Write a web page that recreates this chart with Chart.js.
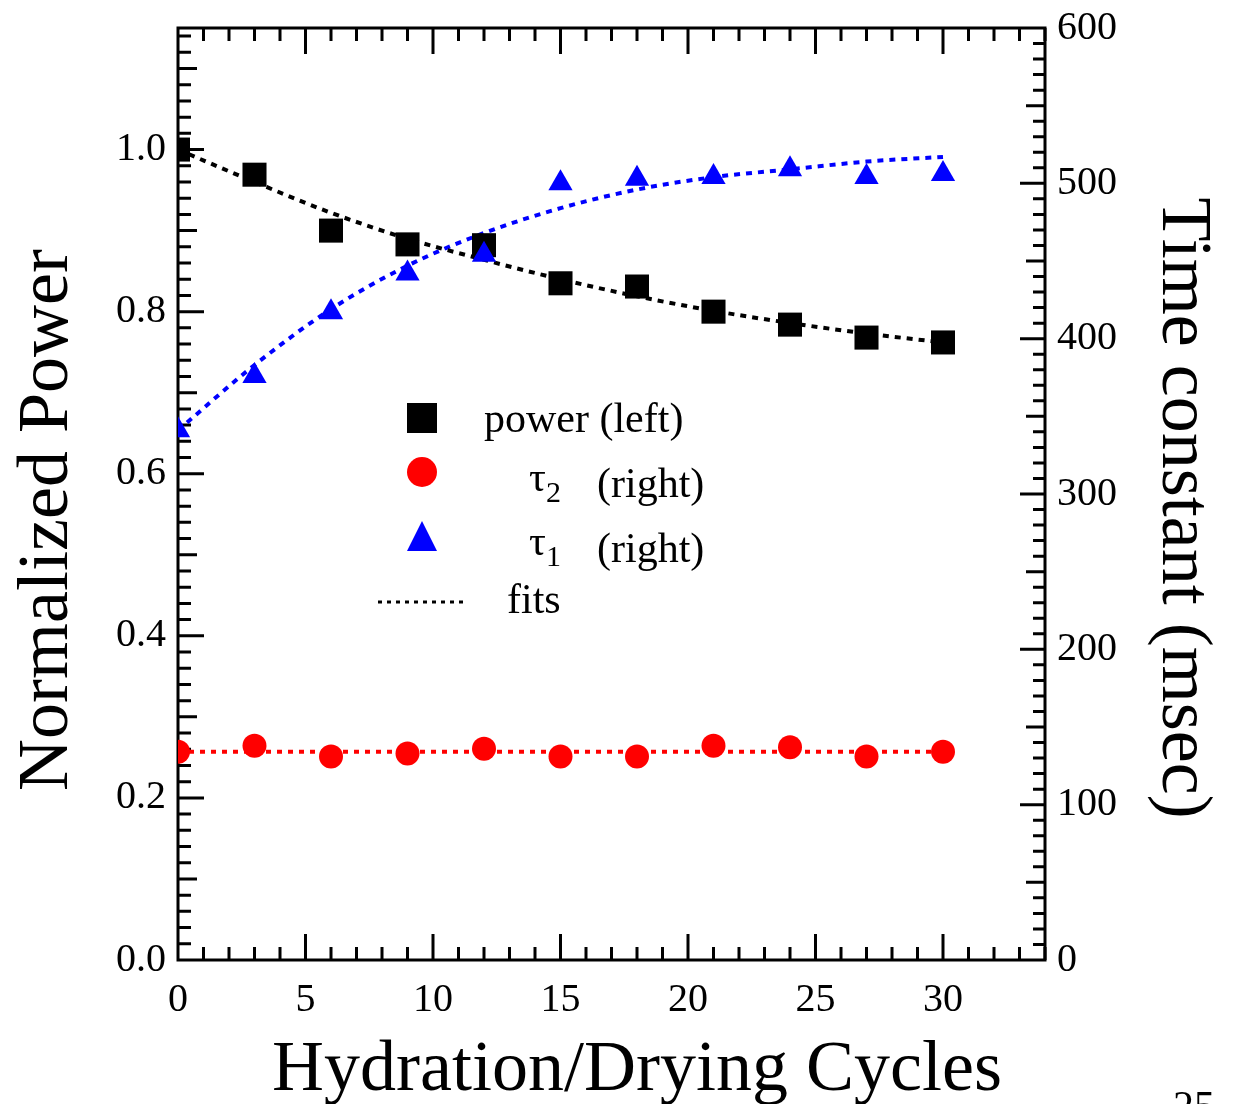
<!DOCTYPE html>
<html>
<head>
<meta charset="utf-8">
<script src="https://cdn.jsdelivr.net/npm/chart.js@4.4.1/dist/chart.umd.min.js"></script>
<style>
  html, body { margin: 0; padding: 0; background: #fff; }
  #wrap { width: 1233px; height: 1104px; }
</style>
</head>
<body>
<div id="wrap"><canvas id="chart"></canvas></div>
<script>
// values
const cycles = [0, 3, 6, 9, 12, 15, 18, 21, 24, 27, 30];
const power = [1.000, 0.969, 0.900, 0.883, 0.882, 0.835, 0.831, 0.800, 0.784, 0.768, 0.762];
const tau1 = [341, 376, 417, 442, 454, 500, 503, 504, 509, 504, 506];
const tau2 = [134, 138, 131, 133, 136, 131, 131, 138, 137, 131, 134];

const powerFit = [1.000, 0.960, 0.922, 0.890, 0.864, 0.840, 0.819, 0.801, 0.786, 0.773, 0.762];
const tau1Fit = [341, 383, 419, 447, 468, 484, 496, 504, 509, 514, 517];
const tau2Fit = [134, 134, 134, 134, 134, 134, 134, 134, 134, 134, 134];

const xTicks = [0, 5, 10, 15, 20, 25, 30];
const leftTicks = [0, 0.2, 0.4, 0.6, 0.8, 1.0];
const rightTicks = [0, 100, 200, 300, 400, 500, 600];

const FONT = "'Liberation Serif', 'Times New Roman', serif";

const pts = (ys) => cycles.map((x, i) => ({ x: x, y: ys[i] }));

// fixed scale sizes, no extra room for overflowing labels
const fixSize = (w, h) => (s) => {
  if (w) s.width = w;
  if (h) s.height = h;
  s.paddingTop = 0; s.paddingBottom = 0;
  s.paddingLeft = 0; s.paddingRight = 0;
};

// inward ticks on all four sides + the frame
const framePlugin = {
  id: "frame",
  beforeDatasetsDraw(chart) {
    const ctx = chart.ctx;
    const a = chart.chartArea;
    const xs = chart.scales.x, yl = chart.scales.yL, yr = chart.scales.yR;
    ctx.save();
    ctx.strokeStyle = "#000";
    ctx.lineWidth = 3;
    ctx.beginPath();
    for (let v = 1; v <= 34; v++) {
      const px = xs.getPixelForValue(v);
      const len = v % 5 === 0 ? 26 : 13;
      ctx.moveTo(px, a.bottom); ctx.lineTo(px, a.bottom - len);
      ctx.moveTo(px, a.top); ctx.lineTo(px, a.top + len);
    }
    for (let k = 1; k <= 57; k++) {
      const py = yl.getPixelForValue(k * 0.02);
      const len = k % 10 === 0 ? 26 : (k % 5 === 0 ? 19 : 13);
      ctx.moveTo(a.left, py); ctx.lineTo(a.left + len, py);
    }
    for (let v = 10; v < 600; v += 10) {
      const py = yr.getPixelForValue(v);
      const len = v % 100 === 0 ? 25 : (v % 50 === 0 ? 19 : 12);
      ctx.moveTo(a.right, py); ctx.lineTo(a.right - len, py);
    }
    ctx.stroke();
    ctx.strokeRect(a.left, a.top, a.right - a.left, a.bottom - a.top);
    ctx.restore();
  },
  afterDraw(chart) {
    const ctx = chart.ctx;
    ctx.save();
    ctx.fillStyle = "#000";
    ctx.textBaseline = "alphabetic";

    // axis titles
    ctx.font = "72px " + FONT;
    ctx.textAlign = "center";
    ctx.fillText("Hydration/Drying Cycles", 637, 1090);
    ctx.save();
    ctx.translate(67, 520);
    ctx.rotate(-Math.PI / 2);
    ctx.fillText("Normalized Power", 0, 0);
    ctx.restore();
    ctx.save();
    ctx.translate(1163, 508);
    ctx.rotate(Math.PI / 2);
    ctx.fillText("Time constant (msec)", 0, 0);
    ctx.restore();

    // legend
    ctx.textAlign = "left";
    ctx.fillRect(407, 403, 30, 30);
    ctx.fillStyle = "#ff0000";
    ctx.beginPath(); ctx.arc(422, 472, 15, 0, Math.PI * 2); ctx.fill();
    ctx.fillStyle = "#0000ff";
    ctx.beginPath();
    ctx.moveTo(422, 521); ctx.lineTo(437, 551); ctx.lineTo(407, 551); ctx.closePath();
    ctx.fill();
    ctx.strokeStyle = "#000";
    ctx.lineWidth = 3;
    ctx.setLineDash([4, 5]);
    ctx.beginPath(); ctx.moveTo(378, 602); ctx.lineTo(467, 602); ctx.stroke();
    ctx.setLineDash([]);

    ctx.fillStyle = "#000";
    ctx.font = "42px " + FONT;
    ctx.fillText("power (left)", 484, 432);
    ctx.fillText("\u03c4", 529, 491);
    ctx.fillText("(right)", 597, 497);
    ctx.fillText("\u03c4", 529, 555);
    ctx.fillText("(right)", 597, 562);
    ctx.fillText("fits", 507, 613);
    ctx.font = "30px " + FONT;
    ctx.fillText("2", 546, 502);
    ctx.fillText("1", 546, 566);

    // page number, cut by the bottom edge
    ctx.font = "42px " + FONT;
    ctx.fillText("25", 1173, 1120);
    ctx.restore();
  }
};

const tickFont = { family: FONT, size: 40 };

new Chart(document.getElementById("chart"), {
  type: "scatter",
  data: {
    datasets: [
      {
        label: "tau1",
        data: pts(tau1),
        yAxisID: "yR",
        pointStyle: "triangle",
        pointRadius: 14,
        pointBackgroundColor: "#0000ff",
        pointBorderWidth: 0
      },
      {
        label: "power",
        data: pts(power),
        yAxisID: "yL",
        pointStyle: "rect",
        pointRadius: 17,
        pointBackgroundColor: "#000",
        pointBorderWidth: 0
      },
      {
        label: "tau2",
        data: pts(tau2),
        yAxisID: "yR",
        pointStyle: "circle",
        pointRadius: 12,
        pointBackgroundColor: "#ff0000",
        pointBorderWidth: 0
      },
      {
        label: "power fit",
        data: pts(powerFit),
        yAxisID: "yL",
        showLine: true,
        pointRadius: 0,
        borderColor: "#000",
        borderWidth: 4,
        borderDash: [6, 6],
        cubicInterpolationMode: "monotone"
      },
      {
        label: "tau1 fit",
        data: pts(tau1Fit),
        yAxisID: "yR",
        showLine: true,
        pointRadius: 0,
        borderColor: "#0000ff",
        borderWidth: 4,
        borderDash: [6, 6],
        cubicInterpolationMode: "monotone"
      },
      {
        label: "tau2 fit",
        data: pts(tau2Fit),
        yAxisID: "yR",
        showLine: true,
        pointRadius: 0,
        borderColor: "#ff0000",
        borderWidth: 4,
        borderDash: [5, 6]
      }
    ]
  },
  options: {
    responsive: true,
    maintainAspectRatio: false,
    animation: false,
    layout: { padding: { top: 28, left: 0, right: 0, bottom: 0 } },
    plugins: {
      legend: { display: false },
      tooltip: { enabled: false }
    },
    scales: {
      x: {
        type: "linear",
        position: "bottom",
        min: 0,
        max: 34,
        afterBuildTicks: (s) => { s.ticks = xTicks.map((v) => ({ value: v })); },
        afterFit: fixSize(0, 144),
        grid: { display: false, drawTicks: false },
        border: { display: false },
        ticks: { font: tickFont, color: "#000", padding: 16, maxRotation: 0 }
      },
      yL: {
        type: "linear",
        position: "left",
        min: 0,
        max: 1.15,
        afterBuildTicks: (s) => { s.ticks = leftTicks.map((v) => ({ value: v })); },
        afterFit: fixSize(178, 0),
        grid: { display: false, drawTicks: false },
        border: { display: false },
        ticks: { font: tickFont, color: "#000", padding: 12, callback: (v) => v.toFixed(1) }
      },
      yR: {
        type: "linear",
        position: "right",
        min: 0,
        max: 600,
        afterBuildTicks: (s) => { s.ticks = rightTicks.map((v) => ({ value: v })); },
        afterFit: fixSize(188, 0),
        grid: { display: false, drawTicks: false },
        border: { display: false },
        ticks: { font: tickFont, color: "#000", padding: 12 }
      }
    }
  },
  plugins: [framePlugin]
});
</script>
</body>
</html>
